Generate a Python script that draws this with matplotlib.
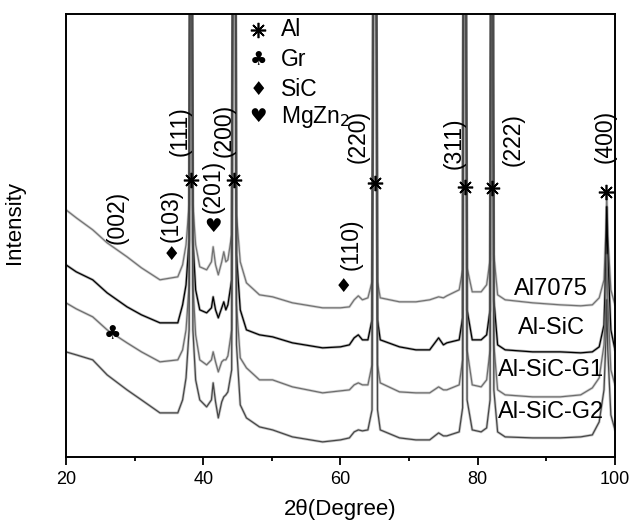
import numpy as np
import matplotlib.pyplot as plt

plt.rcParams['font.family'] = ['Liberation Sans', 'DejaVu Sans']

# 2theta grid (degree) shared by all four patterns
two_theta = [20.0, 21.5, 23.9, 26.0, 28.9, 31.0, 33.7, 36.3, 37.0, 37.5, 37.95, 38.12, 38.3, 38.5,
             38.9, 39.5, 40.5, 41.2, 41.45, 41.8, 42.2, 42.7, 43.0, 43.3, 43.6, 44.15, 44.42, 44.6,
             44.85, 45.4, 46.3, 48.2, 50.1, 53.0, 57.4, 60.0, 61.3, 62.0, 62.6, 63.2, 64.0, 64.6,
             64.92, 65.1, 65.4, 65.8, 68.6, 71.0, 73.0, 74.3, 75.0, 75.5, 77.3, 77.8, 78.0, 78.18,
             78.45, 79.2, 80.5, 81.3, 81.8, 81.98, 82.14, 82.35, 82.9, 84.0, 88.0, 92.0, 95.0, 96.7,
             97.7, 98.4, 98.68, 98.8, 98.95, 99.4, 100.0]

# intensity (a.u., already stacked)
al7075 = [247, 239, 227, 214, 200, 189, 177, 180, 192, 212, 252, 760, 760, 252,
          212, 190, 187, 195, 210, 192, 182, 195, 205, 195, 197, 222, 760, 760,
          242, 195, 174, 162, 160, 154, 149, 149, 150, 157, 161, 157, 159, 175,
          760, 760, 175, 159, 155, 155, 157, 160, 159, 161, 167, 187, 760, 760,
          189, 165, 165, 172, 197, 760, 760, 202, 162, 157, 154, 152, 151, 152,
          159, 177, 227, 262, 222, 167, 152]
al_sic = [192, 185, 177, 164, 150, 142, 134, 134, 152, 172, 217, 760, 760, 217,
          167, 147, 144, 149, 160, 147, 139, 149, 155, 147, 152, 177, 760, 760,
          202, 147, 127, 122, 120, 114, 109, 110, 112, 119, 122, 117, 117, 137,
          760, 760, 137, 117, 110, 107, 107, 119, 112, 114, 117, 139, 760, 760,
          147, 117, 117, 122, 147, 760, 760, 157, 112, 107, 105, 105, 104, 105,
          110, 132, 197, 250, 202, 127, 107]
al_sic_g1 = [154, 148, 140, 127, 114, 105, 95, 97, 107, 127, 172, 760, 760, 172,
             122, 97, 92, 97, 105, 95, 85, 95, 97, 97, 101, 127, 760, 760,
             152, 99, 89, 77, 77, 70, 64, 66, 67, 72, 74, 72, 72, 92,
             760, 760, 92, 74, 65, 64, 64, 70, 67, 67, 72, 97, 760, 760,
             107, 72, 70, 77, 107, 760, 760, 112, 67, 62, 60, 60, 62, 69,
             79, 112, 157, 202, 157, 87, 72]
al_sic_g2 = [105, 102, 97, 82, 67, 57, 44, 44, 57, 79, 127, 760, 760, 127,
             77, 57, 50, 57, 74, 55, 39, 55, 60, 62, 65, 87, 760, 760,
             112, 52, 39, 30, 27, 20, 15, 17, 19, 25, 27, 26, 27, 47,
             760, 760, 47, 27, 19, 17, 17, 24, 21, 21, 25, 49, 760, 760,
             57, 27, 25, 29, 57, 760, 760, 67, 25, 20, 19, 19, 20, 22,
             35, 67, 117, 157, 107, 42, 27]

samples = ['Al7075', 'Al-SiC', 'Al-SiC-G1', 'Al-SiC-G2']
colors = ['#737373', '#000000', '#6e6e6e', '#474747']
label_y = [168, 129, 87, 45]

# peak annotations: (text, x, y)
hkl = [('(002)', 27.4, 239), ('(103)', 35.3, 241), ('(111)', 36.6, 326), ('(201)', 41.5, 270),
       ('(200)', 43.0, 326), ('(110)', 61.6, 213), ('(220)', 62.6, 320), ('(311)', 76.6, 314),
       ('(222)', 85.2, 317), ('(400)', 98.6, 320)]
al_x = [38.15, 44.45, 65.0, 78.1, 82.1, 98.75]
al_y = [277, 277, 274, 270, 269, 265]
phase_marks = [('\u2663', 26.8, 123), ('\u2666', 35.4, 202), ('\u2666', 60.5, 170), ('\u2665', 41.5, 230)]
legend_names = ['Al', 'Gr', 'SiC', 'MgZn$_2$']
legend_syms = ['star', '\u2663', '\u2666', '\u2665']
legend_y = [427, 397, 367, 340]

fig = plt.figure(figsize=(6.34, 5.27), dpi=100)
ax = fig.add_axes([0.104, 0.133, 0.866, 0.841])

for ys, c in zip([al7075, al_sic, al_sic_g1, al_sic_g2], colors):
    ax.plot(two_theta, ys, color=c, lw=2.0, alpha=0.3)
    ax.plot(two_theta, ys, color=c, lw=0.9)

for name, yy in zip(samples, label_y):
    ax.text(90.7, yy, name, fontsize=17, ha='center', va='center')

for t, x, y in hkl:
    ax.text(x, y, t, fontsize=16.5, rotation=90, ha='center', va='center')

ax.plot(al_x, al_y, ls='none', marker=(8, 2, 0), ms=11, mew=1.2, color='k')
for s, x, y in phase_marks:
    ax.text(x, y, s, fontsize=14, ha='center', va='center', family='DejaVu Sans')

for name, sym, y in zip(legend_names, legend_syms, legend_y):
    if sym == 'star':
        ax.plot([48.0], [y], ls='none', marker=(8, 2, 0), ms=11, mew=1.2, color='k')
    else:
        ax.text(48.0, y, sym, fontsize=14, ha='center', va='center', family='DejaVu Sans')
    ax.text(51.3, y, name, fontsize=16.5, ha='left', va='center')

ax.set_xlim(20, 100)
ax.set_ylim(0, 443)
ax.set_xticks([20, 40, 60, 80, 100])
ax.set_xticks([30, 50, 70, 90], minor=True)
ax.set_yticks([])
ax.tick_params(axis='x', which='major', direction='out', length=6, width=1.3, labelsize=13, pad=4)
ax.tick_params(axis='x', which='minor', direction='out', length=3, width=1.3)
for sp in ax.spines.values():
    sp.set_linewidth(1.4)

ax.set_xlabel('2\u03b8(Degree)', fontsize=16, labelpad=8)
ax.set_ylabel('Intensity', fontsize=16)
ax.yaxis.set_label_coords(-0.075, 0.53)

fig.savefig('out.png', dpi=100)
